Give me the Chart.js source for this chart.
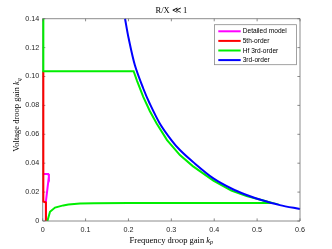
<!DOCTYPE html>
<html><head><meta charset="utf-8">
<script src="https://cdn.jsdelivr.net/npm/chart.js@4"></script>
<style>html,body{margin:0;padding:0;background:#fff}#wrap{width:332px;height:249px}</style>
</head><body><div id="wrap"><canvas id="c" width="332" height="249"></canvas></div>
<script>
const seriesNames = ['Detailed model', '5th-order', 'Hf 3rd-order', '3rd-order'];
const seriesColors = ['#ff00ff', '#ff0000', '#00ee00', '#0000ff'];

const detailedKp = [0.0015, 0.013, 0.0145, 0.0075, 0.0075];
const detailedKq = [0.0325, 0.0325, 0.031, 0.0135, 0.0];

const fifthKp = [0.0015, 0.0015, 0.0075, 0.0075];
const fifthKq = [0.1037, 0.0135, 0.0128, 0.0];

const hf3Kp = [0.0015, 0.0015, 0.212, 0.22, 0.2345, 0.25, 0.2657, 0.29, 0.32, 0.35, 0.398, 0.44, 0.4755, 0.51, 0.535,
               0.4, 0.3, 0.2, 0.12, 0.087, 0.06, 0.048, 0.0287, 0.017, 0.011];
const hf3Kq = [0.14, 0.1037, 0.1037, 0.097, 0.0859, 0.076, 0.0675, 0.056, 0.0456, 0.038, 0.0279, 0.021, 0.0172, 0.0145, 0.0125,
               0.0125, 0.0125, 0.0124, 0.0123, 0.0121, 0.0114, 0.0108, 0.0093, 0.0064, 0.0];

const third3Kp = [0.192, 0.2, 0.215, 0.2345, 0.25, 0.273, 0.3, 0.32, 0.35, 0.398, 0.44, 0.4755, 0.51, 0.553, 0.6];
const third3Kq = [0.14, 0.127, 0.1078, 0.0917, 0.081, 0.0675, 0.056, 0.0491, 0.041, 0.0295, 0.0225, 0.018, 0.0145, 0.011, 0.0083];

const xTicks = [0, 0.1, 0.2, 0.3, 0.4, 0.5, 0.6];
const yTicks = [0, 0.02, 0.04, 0.06, 0.08, 0.1, 0.12, 0.14];

function pts(xs, ys) { return xs.map((x, i) => ({x: x, y: ys[i]})); }
const allX = [detailedKp, fifthKp, hf3Kp, third3Kp];
const allY = [detailedKq, fifthKq, hf3Kq, third3Kq];

const datasets = seriesNames.map((n, i) => ({
  label: n,
  data: pts(allX[i], allY[i]),
  borderColor: seriesColors[i],
  backgroundColor: seriesColors[i],
  borderWidth: 2,
  showLine: true,
  pointRadius: 0,
  tension: i === 3 ? 0.3 : 0,
  clip: false,
  order: 4 - i
}));

const SERIF = '"Liberation Serif", "Times New Roman", serif';
const SANS = '"Liberation Sans", Arial, sans-serif';

const boxPlugin = {
  id: 'boxPlugin',
  afterDraw(chart) {
    const ctx = chart.ctx, a = chart.chartArea;
    const xs = chart.scales.x, ys = chart.scales.y;
    ctx.save();
    ctx.strokeStyle = '#6e6e6e';
    ctx.lineWidth = 0.8;
    ctx.beginPath();
    ctx.moveTo(a.left, a.top); ctx.lineTo(a.right, a.top); ctx.lineTo(a.right, a.bottom); ctx.lineTo(a.left, a.bottom);
    ctx.stroke();
    const tl = 2.6;
    ctx.beginPath();
    xTicks.forEach(v => {
      const px = xs.getPixelForValue(v);
      ctx.moveTo(px, a.bottom); ctx.lineTo(px, a.bottom - tl);
      ctx.moveTo(px, a.top); ctx.lineTo(px, a.top + tl);
    });
    yTicks.forEach(v => {
      const py = ys.getPixelForValue(v);
      ctx.moveTo(a.right, py); ctx.lineTo(a.right - tl, py);
    });
    ctx.stroke();

    // title
    ctx.fillStyle = '#000';
    ctx.textBaseline = 'middle';
    ctx.textAlign = 'center';
    ctx.font = '8.5px ' + SERIF;
    ctx.fillText('R/X \u226A 1', (a.left + a.right) / 2, 10.5);

    function mixed(main, sym, sub, cx, cy) {
      ctx.textAlign = 'left';
      ctx.font = '8.5px ' + SERIF;
      const w1 = ctx.measureText(main).width;
      ctx.font = 'italic 8.5px ' + SERIF;
      const w2 = ctx.measureText(sym).width;
      ctx.font = 'italic 6px ' + SERIF;
      const w3 = ctx.measureText(sub).width;
      let x0 = cx - (w1 + w2 + w3) / 2;
      ctx.font = '8.5px ' + SERIF;
      ctx.fillText(main, x0, cy);
      ctx.font = 'italic 8.5px ' + SERIF;
      ctx.fillText(sym, x0 + w1, cy);
      ctx.font = 'italic 6px ' + SERIF;
      ctx.fillText(sub, x0 + w1 + w2, cy + 2.2);
    }
    mixed('Frequency droop gain ', 'k', 'p', (a.left + a.right) / 2, 240.5);
    ctx.save();
    ctx.translate(17, 115);
    ctx.rotate(-Math.PI / 2);
    mixed('Voltage droop gain ', 'k', 'q', 0, 0);
    ctx.restore();

    // legend
    const lx = 214.5, ly = 24.7, lw = 82, lh = 40;
    ctx.fillStyle = '#fff';
    ctx.fillRect(lx, ly, lw, lh);
    ctx.strokeStyle = '#8a8a8a';
    ctx.lineWidth = 0.8;
    ctx.strokeRect(lx, ly, lw, lh);
    ctx.font = '6.6px ' + SANS;
    ctx.textAlign = 'left';
    ctx.textBaseline = 'middle';
    chart.data.datasets.forEach((d, i) => {
      const yy = ly + 6.6 + i * 9.6;
      ctx.strokeStyle = d.borderColor;
      ctx.lineWidth = 2;
      ctx.beginPath(); ctx.moveTo(lx + 3.8, yy); ctx.lineTo(lx + 26.2, yy); ctx.stroke();
      ctx.fillStyle = '#000';
      ctx.fillText(d.label, lx + 28.2, yy + 0.3);
    });
    ctx.restore();
  }
};

const leftAxisPlugin = {
  id: 'leftAxisPlugin',
  beforeDatasetsDraw(chart) {
    const ctx = chart.ctx, a = chart.chartArea, ys = chart.scales.y;
    ctx.save();
    ctx.strokeStyle = '#6e6e6e';
    ctx.lineWidth = 0.8;
    ctx.beginPath();
    ctx.moveTo(a.left, a.top); ctx.lineTo(a.left, a.bottom);
    yTicks.forEach(v => {
      const py = ys.getPixelForValue(v);
      ctx.moveTo(a.left, py); ctx.lineTo(a.left + 2.6, py);
    });
    ctx.stroke();
    ctx.restore();
  }
};

new Chart(document.getElementById('c'), {
  type: 'scatter',
  data: { datasets: datasets },
  options: {
    responsive: false,
    animation: false,
    devicePixelRatio: 1,
    layout: { padding: { top: 18.7, right: 32, left: 0, bottom: 0 } },
    plugins: { legend: { display: false }, title: { display: false }, tooltip: { enabled: false } },
    scales: {
      x: {
        type: 'linear', min: 0, max: 0.6,
        afterFit(s) { s.height = 28; },
        afterBuildTicks(s) { s.ticks = xTicks.map(v => ({value: v})); },
        grid: { display: false, drawTicks: false },
        border: { display: false },
        ticks: { padding: 5, color: '#262626', font: { size: 7.2, family: SANS } }
      },
      y: {
        type: 'linear', min: 0, max: 0.14,
        afterFit(s) { s.width = 42.7; },
        afterBuildTicks(s) { s.ticks = yTicks.map(v => ({value: v})); },
        grid: { display: false, drawTicks: false },
        border: { display: false },
        ticks: { padding: 3.4, color: '#262626', font: { size: 7.2, family: SANS } }
      }
    }
  },
  plugins: [boxPlugin, leftAxisPlugin]
});
</script>
</body></html>
